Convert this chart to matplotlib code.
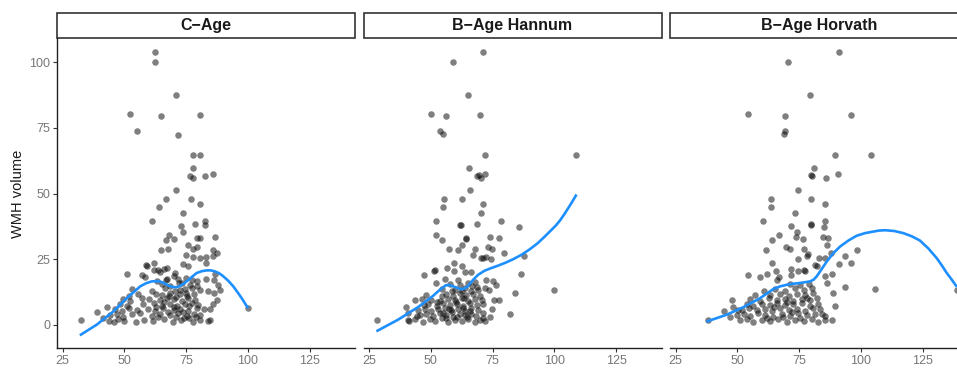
import matplotlib
matplotlib.use("Agg")
import matplotlib.pyplot as plt
from matplotlib.patches import Rectangle

plt.rcParams["font.family"] = ["Liberation Sans", "DejaVu Sans"]

# --- data (age, WMH volume) ---
c_age_points = [
    (32.3, 1.9), (62.2, 104.0), (62.2, 100.0), (71.0, 87.5), (52.3, 80.2),
    (65.0, 79.5), (80.7, 80.0), (55.2, 74.0), (71.9, 72.5), (77.6, 64.7),
    (80.7, 64.7), (77.6, 59.9), (77.6, 55.8), (76.7, 56.8), (82.7, 56.7),
    (85.8, 57.3), (71.0, 51.2), (67.0, 48.1), (76.9, 47.8), (80.7, 46.0),
    (64.0, 44.8), (73.9, 42.4), (61.0, 39.6), (82.7, 39.4), (82.7, 37.9),
    (78.6, 38.2), (72.8, 37.5), (73.6, 35.4), (68.0, 34.2), (70.0, 32.6),
    (67.0, 32.1), (79.6, 33.2), (80.7, 33.2), (86.7, 33.5), (75.9, 30.2),
    (79.6, 29.6), (64.7, 28.3), (67.7, 28.8), (77.6, 28.8), (85.8, 28.3),
    (87.6, 27.3), (85.8, 26.3), (80.7, 25.6), (83.0, 25.7), (77.6, 25.7),
    (74.9, 26.6), (75.9, 22.4), (83.0, 23.5), (73.9, 23.1), (62.0, 23.5),
    (59.0, 22.4), (62.0, 20.9), (63.5, 20.7), (66.0, 21.2), (51.0, 19.4),
    (57.2, 18.9), (58.3, 18.1), (70.0, 18.4), (66.8, 17.1), (71.8, 17.4),
    (83.0, 17.4), (86.7, 19.4), (39.1, 4.8), (42.9, 6.7), (70.3, 19.7),
    (72.0, 15.9), (75.0, 17.8), (79.3, 16.5), (86.3, 17.1), (88.0, 15.2),
    (88.8, 13.3), (86.3, 12.0), (83.7, 12.7), (87.4, 9.5), (85.8, 8.0),
    (82.3, 6.0), (84.5, 6.0), (84.8, 1.9), (64.5, 19.9), (67.4, 21.6),
    (58.8, 22.6), (100.0, 6.5),
    # dense low cluster
    (41.5, 2.5), (43.6, 1.3), (45.6, 1.2), (47.6, 2.0), (50.0, 1.5),
    (54.7, 0.9), (58.1, 1.8), (61.5, 1.3), (66.2, 2.2), (69.6, 1.0),
    (73.0, 1.7), (76.3, 2.4), (77.6, 1.1), (80.7, 1.9), (83.7, 1.4),
    (44.2, 3.5), (46.9, 4.2), (49.6, 3.1), (53.0, 3.9), (56.4, 4.4),
    (61.1, 3.3), (64.5, 4.0), (68.5, 3.6), (71.9, 4.5), (75.3, 3.2),
    (78.0, 4.1), (80.7, 3.7), (46.3, 5.9), (49.0, 5.2), (51.7, 6.3),
    (55.0, 5.5), (59.7, 6.1), (62.4, 5.3), (65.8, 6.4), (69.9, 5.6),
    (72.6, 6.0), (75.9, 5.1), (79.3, 6.5), (48.3, 7.9), (51.0, 7.2),
    (57.7, 7.7), (61.8, 8.2), (65.1, 7.3), (68.5, 8.0), (71.3, 7.1),
    (74.6, 7.8), (77.3, 8.3), (80.0, 7.4), (49.6, 9.9), (52.3, 9.2),
    (57.1, 10.0), (64.5, 9.3), (67.2, 10.2), (69.9, 9.6), (73.2, 9.0),
    (75.9, 10.1), (78.7, 9.4), (51.7, 11.0), (55.7, 11.8), (65.1, 11.2),
    (68.5, 12.0), (72.6, 11.5), (75.3, 10.9), (78.0, 11.7), (53.0, 13.6),
    (61.1, 13.0), (66.5, 13.8), (70.5, 12.9), (74.6, 13.5), (77.3, 14.0),
    (80.7, 13.1), (65.1, 15.5), (68.5, 14.9), (73.2, 15.7), (76.6, 15.0),
    (79.3, 14.6), (63.1, 16.8), (67.2, 17.5), (77.3, 16.9), (63.5, 2.8),
    (67.8, 5.0), (71.0, 3.0), (74.0, 2.6), (76.0, 7.0), (70.8, 10.7),
    (63.0, 11.6), (60.0, 9.8), (73.8, 4.8), (66.0, 8.8), (78.8, 3.0),
    (62.7, 6.8), (70.2, 6.6), (72.4, 13.4), (75.0, 12.2), (68.0, 10.9),
]

hannum_points = [
    (70.9, 104.0), (59.0, 100.0), (65.1, 87.5), (50.1, 80.2), (56.0, 79.5),
    (69.7, 79.9), (53.5, 73.9), (54.7, 72.6), (72.1, 64.7), (108.9, 64.7),
    (65.5, 59.9), (68.5, 56.8), (69.3, 56.9), (70.2, 55.8), (72.1, 57.5),
    (65.8, 51.2), (55.2, 48.1), (62.5, 47.8), (55.1, 44.8), (71.3, 46.0),
    (70.1, 42.4), (51.9, 39.4), (68.6, 38.2), (78.2, 39.4), (61.6, 37.9),
    (62.3, 38.0), (85.6, 37.2), (52.0, 34.2), (64.4, 33.1), (64.1, 32.6),
    (73.9, 33.4), (77.4, 32.9), (54.6, 32.1), (62.5, 30.2), (57.3, 28.8),
    (60.8, 28.3), (73.0, 29.8), (67.8, 28.8), (74.8, 28.8), (79.8, 27.5),
    (70.4, 25.6), (71.0, 25.6), (67.1, 26.6), (72.5, 25.7), (74.5, 25.0),
    (87.9, 26.3), (56.4, 21.6), (59.4, 23.7), (51.5, 21.0), (51.2, 20.3),
    (47.3, 19.0), (86.3, 19.4), (84.2, 12.0), (100.0, 13.1), (82.2, 4.1),
    (28.0, 1.9), (62.4, 22.2), (59.4, 20.3), (60.8, 17.1), (63.7, 19.9),
    (66.2, 20.0), (55.6, 17.4), (52.0, 15.9), (43.5, 9.5), (40.1, 6.7),
    (40.8, 4.4), (41.2, 1.3), (44.2, 3.2), (47.3, 7.6), (50.2, 9.3),
    (52.3, 8.5), (54.6, 10.8), (58.4, 12.7), (62.4, 12.7), (66.5, 14.6),
    (68.7, 14.2), (72.5, 17.1), (75.1, 16.5), (76.5, 15.2), (71.8, 14.0),
    (73.4, 13.1), (75.7, 9.5), (77.6, 9.5), (74.9, 6.0), (73.8, 2.8),
    (70.9, 2.5),
    # dense low cluster
    (40.8, 1.6), (43.5, 2.3), (46.9, 1.2), (49.6, 2.0), (51.6, 1.4),
    (54.3, 2.4), (57.0, 1.1), (59.7, 1.8), (62.4, 1.3), (65.1, 2.2),
    (67.8, 1.0), (69.8, 1.7), (71.8, 1.5), (45.5, 3.6), (48.2, 4.1),
    (50.9, 3.3), (53.6, 4.4), (56.3, 3.8), (59.0, 3.1), (61.7, 4.2),
    (63.7, 3.5), (66.4, 4.0), (68.4, 3.2), (71.2, 4.3), (44.9, 5.5),
    (47.6, 6.1), (50.2, 5.3), (52.9, 5.9), (55.6, 6.4), (58.3, 5.6),
    (61.0, 6.0), (63.7, 5.2), (66.4, 6.3), (69.1, 5.7), (48.9, 7.9),
    (52.3, 7.3), (55.0, 8.1), (57.7, 7.5), (60.4, 7.8), (63.1, 7.2),
    (65.8, 8.2), (68.5, 7.6), (71.2, 7.9), (46.2, 9.8), (53.6, 9.2),
    (57.0, 9.9), (59.7, 9.4), (62.4, 10.0), (65.1, 9.1), (67.8, 9.7),
    (70.5, 9.3), (48.2, 11.2), (56.3, 11.7), (59.0, 11.0), (61.7, 11.9),
    (64.4, 11.3), (67.1, 11.6), (69.8, 10.9), (54.3, 13.5), (59.7, 13.1),
    (63.7, 13.8), (66.4, 12.9), (69.1, 13.4), (57.7, 15.4), (61.7, 15.0),
    (65.1, 15.8), (67.8, 16.2), (56.0, 2.6), (58.5, 4.8), (60.5, 3.0),
    (62.8, 6.5), (64.8, 2.8), (57.2, 6.0), (60.0, 8.6), (63.5, 10.2),
    (66.0, 5.2), (54.8, 4.5),
]

horvath_points = [
    (91.3, 104.0), (70.4, 100.0), (79.3, 87.5), (54.2, 80.2), (69.1, 79.5),
    (96.1, 79.9), (69.3, 73.9), (68.9, 72.6), (89.7, 64.7), (104.2, 64.7),
    (80.9, 59.9), (80.1, 56.8), (79.9, 56.9), (85.9, 55.8), (90.7, 57.5),
    (74.7, 51.2), (63.5, 48.1), (63.5, 44.8), (80.0, 47.8), (85.4, 46.0),
    (73.4, 42.4), (60.3, 39.6), (79.7, 38.2), (79.9, 38.0), (85.4, 39.4),
    (71.8, 37.7), (84.9, 37.4), (66.8, 34.2), (74.1, 35.3), (73.7, 33.4),
    (76.4, 32.7), (84.7, 33.6), (63.9, 32.1), (86.5, 33.0), (86.4, 30.2),
    (61.4, 28.3), (69.8, 29.7), (71.5, 28.8), (76.9, 28.7), (78.6, 26.8),
    (78.2, 26.0), (74.7, 25.1), (82.9, 25.4), (85.5, 25.6), (88.1, 27.3),
    (93.5, 26.3), (98.6, 28.3), (63.9, 23.5), (91.1, 23.1), (96.1, 23.5),
    (82.3, 22.4), (54.2, 19.0), (59.0, 18.1), (61.9, 19.4), (66.9, 18.0),
    (71.6, 21.4), (77.1, 20.7), (88.3, 19.4), (93.5, 14.2), (105.6, 13.7),
    (138.8, 13.1), (88.9, 12.0), (38.0, 1.9), (44.4, 5.1), (48.0, 9.5),
    (48.4, 6.7), (65.7, 20.3), (66.0, 17.1), (71.6, 19.0), (74.7, 20.5),
    (77.4, 20.3), (57.2, 11.4), (60.6, 12.7), (81.3, 22.8), (85.5, 18.6),
    (86.2, 15.9), (89.6, 7.2), (88.2, 1.9), (85.5, 3.2), (47.0, 3.0),
    (50.2, 5.4),
    # dense low cluster
    (51.1, 1.6), (53.8, 2.2), (56.5, 1.2), (59.9, 1.9), (63.3, 1.4),
    (66.6, 2.3), (70.0, 1.1), (73.4, 1.8), (76.8, 1.3), (80.1, 2.1),
    (82.8, 1.0), (85.5, 1.7), (49.8, 3.6), (52.5, 4.2), (55.2, 3.3),
    (58.5, 4.4), (61.2, 3.8), (64.6, 3.1), (68.0, 4.0), (71.3, 3.4),
    (74.7, 4.3), (78.1, 3.6), (81.4, 4.1), (84.1, 3.9), (51.8, 5.6),
    (54.5, 6.2), (57.9, 5.4), (61.2, 6.0), (63.9, 5.3), (67.3, 6.3),
    (70.7, 5.7), (74.0, 6.1), (77.4, 5.2), (80.8, 6.4), (83.5, 5.8),
    (53.8, 7.9), (56.5, 7.3), (59.9, 8.0), (63.3, 7.5), (66.0, 8.2),
    (69.3, 7.4), (72.7, 7.8), (76.1, 8.3), (79.4, 7.2), (82.8, 7.7),
    (55.2, 9.8), (59.2, 9.2), (62.6, 10.0), (66.0, 9.4), (69.3, 9.9),
    (72.7, 9.1), (76.1, 9.7), (79.4, 9.5), (82.1, 10.1), (63.3, 11.3),
    (67.3, 11.8), (70.7, 11.0), (74.0, 11.6), (77.4, 11.2), (80.8, 11.9),
    (65.3, 13.5), (69.3, 13.0), (73.4, 13.8), (76.8, 13.2), (80.1, 14.0),
    (71.3, 15.4), (75.4, 15.0), (78.8, 15.6), (68.5, 2.8), (72.0, 4.8),
    (75.5, 2.7), (65.0, 6.9), (70.2, 8.6), (78.0, 10.3), (62.0, 2.6),
]

# loess curves
c_age_smooth_x = [32.4, 38.8, 45.6, 51.0, 54.0, 56.4, 58.8, 61.1, 63.0, 64.5,
                  66.0, 67.2, 68.6, 69.9, 71.2, 72.6, 74.2, 76.0, 77.7, 79.3,
                  81.4, 83.4, 85.0, 86.7, 88.4, 90.1, 92.1, 94.1, 95.8, 97.5,
                  99.8]
c_age_smooth_y = [-3.8, 0.0, 5.1, 10.1, 12.6, 14.6, 15.8, 16.5, 16.6, 16.4,
                  15.9, 15.2, 14.6, 14.3, 14.3, 14.8, 15.8, 17.1, 18.5, 19.7,
                  20.4, 20.7, 20.7, 20.3, 19.6, 18.4, 16.7, 14.6, 12.4, 10.1,
                  6.7]

hannum_smooth_x = [28.4, 36.7, 44.8, 50.9, 53.5, 56.0, 57.5, 59.0, 60.8, 62.2,
                   63.6, 65.1, 67.0, 69.1, 71.8, 74.5, 77.2, 79.9, 83.2, 86.6,
                   90.0, 93.3, 96.0, 98.8, 100.8, 102.5, 104.1, 105.6, 107.2,
                   108.7]
hannum_smooth_y = [-2.3, 1.9, 6.7, 11.0, 13.2, 15.0, 15.1, 14.6, 14.0, 13.5,
                   13.8, 14.8, 17.0, 19.0, 20.6, 21.6, 22.5, 23.5, 24.9, 26.6,
                   28.7, 31.1, 33.5, 36.1, 38.0, 40.0, 42.2, 44.4, 46.8,
                   49.2]

horvath_smooth_x = [37.9, 45.7, 52.5, 59.2, 64.6, 67.3, 70.0, 72.7, 75.4, 77.5,
                    79.4, 80.8, 82.1, 84.0, 86.2, 88.8, 91.6, 95.0, 98.3,
                    101.7, 105.1, 107.6, 110.0, 113.6, 117.2, 120.6, 123.9,
                    127.3, 130.7, 132.8, 134.8, 136.7, 138.6]
horvath_smooth_y = [1.3, 3.8, 6.7, 10.1, 13.6, 14.6, 15.2, 15.6, 15.9, 16.2,
                    16.5, 17.1, 18.4, 21.0, 24.1, 27.2, 29.8, 32.1, 33.9,
                    34.9, 35.5, 35.9, 36.0, 35.7, 34.9, 33.7, 32.1, 29.1,
                    25.4, 22.6, 19.7, 17.3, 14.8]

panel_titles = ["C\u2212Age", "B\u2212Age Hannum", "B\u2212Age Horvath"]
x_ticks = [25, 50, 75, 100, 125]
y_ticks = [0, 25, 50, 75, 100]

panels = [
    (c_age_points, c_age_smooth_x, c_age_smooth_y),
    (hannum_points, hannum_smooth_x, hannum_smooth_y),
    (horvath_points, horvath_smooth_x, horvath_smooth_y),
]

W, H = 957, 368
fig = plt.figure(figsize=(W / 100, H / 100), dpi=100)

panel_lefts = [57, 363.5, 670]
panel_w, panel_h, panel_bottom = 298, 310, 20
strip_h = 25

for i, ((pts, sx, sy), title) in enumerate(zip(panels, panel_titles)):
    ax = fig.add_axes([panel_lefts[i] / W, panel_bottom / H, panel_w / W, panel_h / H])
    xs = [p[0] for p in pts]
    ys = [p[1] for p in pts]
    ax.scatter(xs, ys, s=22, c="black", alpha=0.5, linewidths=0, zorder=2)
    ax.plot(sx, sy, color="#1E8FFF", lw=1.9, solid_joinstyle="round", zorder=3)

    ax.set_xlim(22.7, 143.4)
    ax.set_ylim(-8.9, 109.3)
    ax.set_xticks(x_ticks)
    ax.set_yticks(y_ticks)

    for side in ("top", "right"):
        ax.spines[side].set_visible(False)
    ax.spines["bottom"].set_color("#222222")
    ax.spines["bottom"].set_linewidth(1.0)
    if i == 0:
        ax.spines["left"].set_color("#222222")
        ax.spines["left"].set_linewidth(1.0)
        ax.tick_params(axis="y", length=3, width=0.8, color="#333333",
                       labelcolor="#777777", labelsize=9, pad=2)
    else:
        ax.spines["left"].set_visible(False)
        ax.tick_params(axis="y", left=False, labelleft=False)
    ax.tick_params(axis="x", length=3, width=0.8, color="#333333",
                   labelcolor="#777777", labelsize=9, pad=2)

    # facet strip
    sh = strip_h / panel_h
    ax.add_patch(Rectangle((0, 1.0), 1, sh, transform=ax.transAxes, clip_on=False,
                           facecolor="white", edgecolor="#333333", lw=1.2))
    ax.text(0.5, 1.0 + sh / 2, title, transform=ax.transAxes, ha="center",
            va="center", fontsize=11.5, fontweight="bold", color="#1a1a1a")

fig.text(18 / W, 1 - 194 / H, "WMH volume", rotation=90, ha="center", va="center",
         fontsize=10.5, color="#1a1a1a")

fig.savefig("out.png", dpi=100)
